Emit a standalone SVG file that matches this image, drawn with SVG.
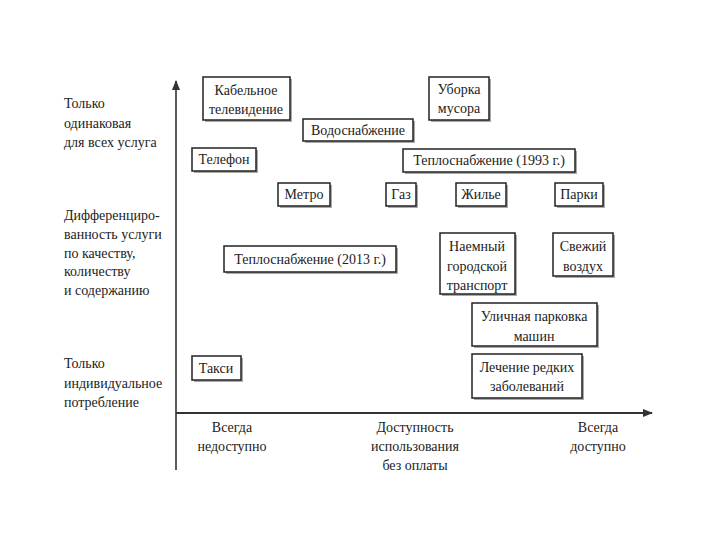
<svg xmlns="http://www.w3.org/2000/svg" width="720" height="540" viewBox="0 0 720 540" font-family="'Liberation Serif', 'DejaVu Serif', serif">
<style>
text{font-family:'Liberation Serif','DejaVu Serif',serif;font-size:14px;fill:#222}
.c{text-anchor:middle}
.box{fill:#fff;stroke:#222;stroke-width:1.5}
.sh{fill:#aaa}
.ax{stroke:#333;fill:none}
</style>
<defs>
<marker id="ah" markerWidth="10" markerHeight="8" refX="9" refY="4" orient="auto" markerUnits="userSpaceOnUse">
<path d="M0,0 L10,4 L0,8 Z" fill="#333"/>
</marker>
</defs>
<rect width="720" height="540" fill="#fff"/>

<g id="axes">
<line class="ax" x1="176" y1="470" x2="176" y2="81" stroke-width="1.6" marker-end="url(#ah)"/>
<line class="ax" x1="176" y1="413" x2="652" y2="413" stroke-width="2.2" marker-end="url(#ah)"/>
</g>

<g id="ylabels">
<text x="64" y="108">Только</text>
<text x="64" y="128">одинаковая</text>
<text x="64" y="147">для всех услуга</text>
<text x="64" y="220">Дифференциро-</text>
<text x="64" y="239">ванность услуги</text>
<text x="64" y="258">по качеству,</text>
<text x="64" y="276">количеству</text>
<text x="64" y="295">и содержанию</text>
<text x="64" y="368">Только</text>
<text x="64" y="388">индивидуальное</text>
<text x="64" y="407">потребление</text>
</g>

<g id="xlabels">
<text class="c" x="232" y="432">Всегда</text>
<text class="c" x="232" y="451">недоступно</text>
<text class="c" x="415" y="432">Доступность</text>
<text class="c" x="415" y="451">использования</text>
<text class="c" x="415" y="470">без оплаты</text>
<text class="c" x="598" y="432">Всегда</text>
<text class="c" x="598" y="451">доступно</text>
</g>

<g id="cable"><rect class="sh" x="205" y="79" width="87" height="43"/><rect class="box" x="203" y="77" width="87" height="43"/><text class="c" x="246" y="95">Кабельное</text><text class="c" x="246" y="114">телевидение</text></g>
<g id="garbage"><rect class="sh" x="431" y="79" width="60" height="43"/><rect class="box" x="429" y="77" width="60" height="43"/><text class="c" x="459" y="94">Уборка</text><text class="c" x="459" y="113">мусора</text></g>
<g id="water"><rect class="sh" x="305" y="121" width="110" height="22"/><rect class="box" x="303" y="119" width="110" height="22"/><text class="c" x="358" y="135">Водоснабжение</text></g>
<g id="phone"><rect class="sh" x="194" y="150" width="64" height="23"/><rect class="box" x="192" y="148" width="64" height="23"/><text class="c" x="224" y="164">Телефон</text></g>
<g id="heat1993"><rect class="sh" x="405" y="151" width="172" height="23"/><rect class="box" x="403" y="149" width="172" height="23"/><text class="c" x="489" y="165">Теплоснабжение (1993 г.)</text></g>
<g id="metro"><rect class="sh" x="280" y="185" width="52" height="23"/><rect class="box" x="278" y="183" width="52" height="23"/><text class="c" x="304" y="199">Метро</text></g>
<g id="gas"><rect class="sh" x="388" y="185" width="30" height="23"/><rect class="box" x="386" y="183" width="30" height="23"/><text class="c" x="401" y="199">Газ</text></g>
<g id="housing"><rect class="sh" x="458" y="185" width="50" height="23"/><rect class="box" x="456" y="183" width="50" height="23"/><text class="c" x="481" y="199">Жилье</text></g>
<g id="parks"><rect class="sh" x="557" y="185" width="48" height="23"/><rect class="box" x="555" y="183" width="48" height="23"/><text class="c" x="579" y="199">Парки</text></g>
<g id="heat2013"><rect class="sh" x="226" y="248" width="172" height="26"/><rect class="box" x="224" y="246" width="172" height="26"/><text class="c" x="310" y="264">Теплоснабжение (2013 г.)</text></g>
<g id="transport"><rect class="sh" x="442" y="235" width="75" height="61"/><rect class="box" x="440" y="233" width="75" height="61"/><text class="c" x="477" y="251">Наемный</text><text class="c" x="477" y="271">городской</text><text class="c" x="477" y="290">транспорт</text></g>
<g id="air"><rect class="sh" x="555" y="235" width="60" height="43"/><rect class="box" x="553" y="233" width="60" height="43"/><text class="c" x="583" y="251">Свежий</text><text class="c" x="583" y="271">воздух</text></g>
<g id="parking"><rect class="sh" x="474" y="305" width="125" height="43"/><rect class="box" x="472" y="303" width="125" height="43"/><text class="c" x="534" y="321">Уличная парковка</text><text class="c" x="534" y="341">машин</text></g>
<g id="taxi"><rect class="sh" x="194" y="358" width="49" height="24"/><rect class="box" x="192" y="356" width="49" height="24"/><text class="c" x="216" y="373">Такси</text></g>
<g id="disease"><rect class="sh" x="474" y="356" width="110" height="44"/><rect class="box" x="472" y="354" width="110" height="44"/><text class="c" x="527" y="372">Лечение редких</text><text class="c" x="527" y="391">заболеваний</text></g>
</svg>
